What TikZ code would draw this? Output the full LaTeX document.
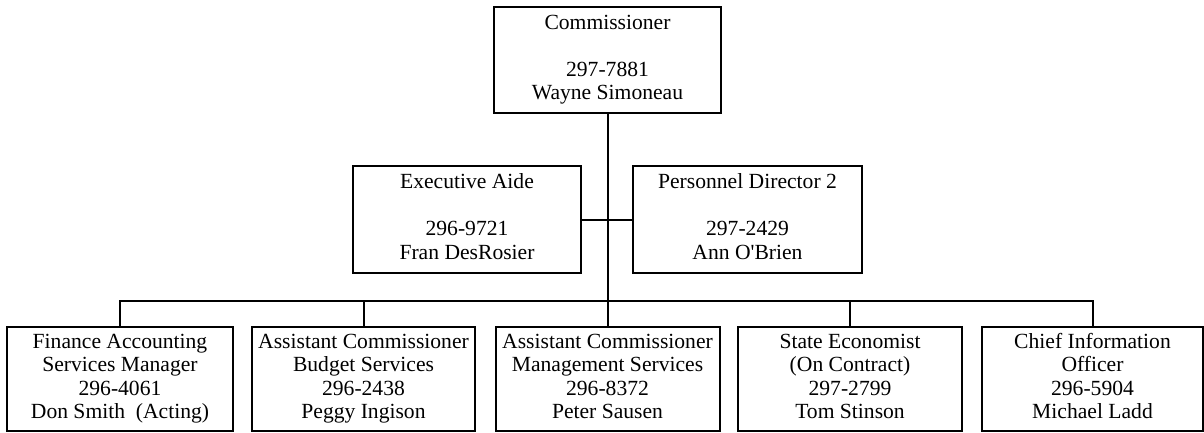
\documentclass[tikz,border=0pt]{standalone}
\usepackage{fontspec}
\setmainfont{Liberation Serif}[Ligatures=TeXOff]
\newcommand\orgfont{\fontsize{21.6}{23.5}\selectfont}
\begin{document}
\begin{tikzpicture}[x=1pt,y=1pt,
  orgbox/.style={draw, line width=2pt, align=center, inner sep=0pt, font=\orgfont},
  link/.style={line width=2pt}]
\useasboundingbox (0,0) rectangle (1204,432);
% top
\node[orgbox, minimum width=227, minimum height=106] (top) at (607.5,372)
  {\strut Commissioner\\[23.5pt]297-7881\\Wayne Simoneau\strut};
% middle
\node[orgbox, minimum width=228, minimum height=107] (exec) at (467,212.5)
  {\strut Executive Aide\\[23.5pt]296-9721\\Fran DesRosier\strut};
\node[orgbox, minimum width=229, minimum height=107] (pers) at (747.5,212.5)
  {\strut Personnel Director 2\\[23.5pt]297-2429\\Ann O'Brien\strut};
% bottom
\node[orgbox, minimum width=226, minimum height=104] (b1) at (120,53)
  {\strut Finance Accounting\\Services Manager\\296-4061\\Don Smith\ \ (Acting)\strut};
\node[orgbox, minimum width=223, minimum height=104] (b2) at (363.5,53)
  {\strut Assistant Commissioner\\Budget Services\\296-2438\\Peggy Ingison\strut};
\node[orgbox, minimum width=224, minimum height=104] (b3) at (607.5,53)
  {\strut Assistant Commissioner\\Management Services\\296-8372\\Peter Sausen\strut};
\node[orgbox, minimum width=224, minimum height=104] (b4) at (850,53)
  {\strut State Economist\\(On Contract)\\297-2799\\Tom Stinson\strut};
\node[orgbox, minimum width=221, minimum height=104] (b5) at (1092.5,53)
  {\strut Chief Information\\Officer\\296-5904\\Michael Ladd\strut};
\coordinate (bar) at (0,131);
% connectors
\draw[link] (top.south) -- (top.south |- bar);
\draw[link] (exec.east) -- (pers.west);
\draw[link] (b1.north) |- (b5.north |- bar) -- (b5.north);
\draw[link] (b2.north) -- (b2.north |- bar);
\draw[link] (b3.north) -- (b3.north |- bar);
\draw[link] (b4.north) -- (b4.north |- bar);
\end{tikzpicture}
\end{document}
